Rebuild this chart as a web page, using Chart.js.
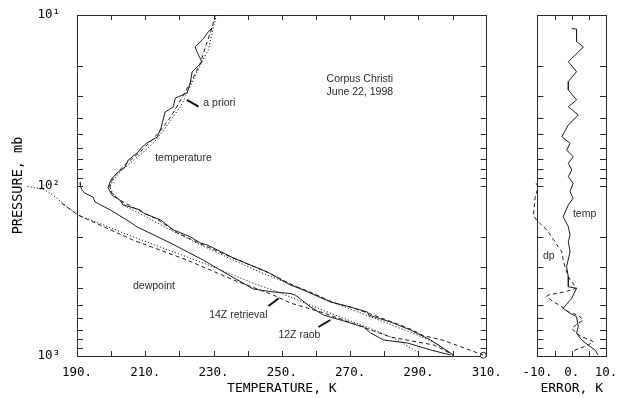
<!DOCTYPE html>
<html><head><meta charset="utf-8">
<script src="https://cdn.jsdelivr.net/npm/chart.js@4/dist/chart.umd.min.js"></script>
<style>
html,body{margin:0;padding:0;background:#fff;}
#wrap{position:relative;width:628px;height:398px;overflow:hidden;background:#fff;}
#c1{position:absolute;left:0;top:0;}
#c2{position:absolute;left:505px;top:0;}
</style></head><body>
<div id="wrap"><canvas id="c1" width="505" height="398"></canvas><canvas id="c2" width="123" height="398"></canvas></div>
<script>
// ---------- DATA (temperature K / pressure mb) ----------
const tempRaobT = [229.6,228.4,227.0,224.6,225.2,226.6,223.7,223.2,222.2,218.8,218.2,215.8,215.2,214.6,213.5,210.5,209.1,207.6,205.0,204.1,201.7,200.2,199.7,199.1,200.3,202.6,203.5,208.5,209.4,214.4,218.2,223.2,226.1,228.1,235.8,245.8,252.5,256.3,264.2,270.1,275.1,275.4,281.8,287.7,293.6,299.4,300.3];
const tempRaobP = [11.9,12.6,13.8,15.4,16.5,18.9,21.6,25.0,28.7,30.7,34.6,37.1,41.3,46,52.0,56.3,59.5,64.5,70.9,77.9,84.5,91,95.4,103,114,122,130,139,145,159,182,200,217,223,266,322,383,410,482,516,552,575,632,704,806,960,1000];

const tempRetrT = [230.5,229.5,227.8,226.2,224.2,221.8,219.8,217.3,214.3,211.3,208.3,205.3,202.8,200.8,199.6,199.8,202.0,207.5,213.5,219.5,226.3,236.0,246.0,253.3,257.8,265.0,271.0,276.5,283.0,288.0,291.5,297.0,309.0];
const tempRetrP = [10,12,15,19,23,28,33,40,48,56,64,72,80,89,98,108,120,138,158,190,220,268,324,385,418,485,524,572,640,700,760,806,986];

const tempApriT = [230.8,229.5,228.5,226.5,224.5,222.5,220.5,218.0,215.5,212.5,209.0,205.5,202.5,200.5,199.6,200.5,204.7,210.0,216.4,226.0,235.8,244.0,252.5,259.0,265.5,272.0,278.0,284.0,289.5,294.5,300.0];
const tempApriP = [10,13,16,19,23,28,34,40,47,56,65,74,84,93,102,112,134,152,178,222,274,325,380,430,490,550,610,680,750,830,990];

const dewRaobT = [190.9,191.0,191.4,192.3,194.7,195.3,199.7,205.6,207.6,217.3,227.0,234.5,241.7,247.0,252.5,254.0,258.4,262.2,267.2,273.9,276.0,279.8,286.8,293.6,299.4];
const dewRaobP = [96,100,106,111,117,125,139,164,175,217,274,335,405,420,430,440,516,575,615,676,733,806,839,922,986];

const dewRetrT = [185.5,190.3,206.4,222.3,235.8,247.5,252.5,262.2,281.8,294.5,300.3];
const dewRetrP = [127,149,209,274,358,439,489,558,774,862,986];

const dewApriT = [175.5,180.6,184.0,187.0,190.3,195.0,205.0,215.0,228.0,241.0,250.0,258.0,267.0,276.0,283.0,289.8];
const dewApriP = [101,106,118,133,149,162,195,232,290,370,430,500,590,690,790,947];

const surfaceT = [309.0];
const surfaceP = [990];

// error panel (K / mb)
const errTempE = [0,1.4,1.4,3.4,-1.0,1.4,-1.0,-1.0,1.4,-1.0,1.9,-1.0,-2.9,-0.5,-1.5,0.4,-1.0,0,-1.0,0.4,-0.5,0.4,-1.0,-2.5,-1.0,-0.5,-1.0,-0.5,-1.5,-1.0,-1.0,1.4,0,-2.5,-0.5,1.4,1.9,1.4,2.9,4.8,6.8,7.7];
const errTempP = [12.0,12.1,14.3,15.4,18.8,21.5,24.6,27.5,31.5,34.5,38.6,44.2,51.7,56.6,61.9,67.8,74.1,81.1,88.8,97.1,108.7,118.9,130.1,152.4,174.4,195.1,213.6,244.5,299.4,342.7,392.2,400.9,458.7,525.2,561.7,588.3,673.2,735.9,805.7,861.9,922.2,986.5];

const errDewE = [-10.4,-9.8,-10.7,-11.2,-10.2,-9.3,-7.3,-5.9,-3.9,-2.9,-2.5,-2.0,-1.0,0,1.4,-2.0,-6.9,-7.3,-5.4,-2.9,-1.0,0.4,2.4,3.4,1.9,0,1.4,2.9,5.3,6.3,4.8,2.4,0.9,0.4];
const errDewP = [97,102,118,150,160,167,182,200,229,245,274,299,343,367,401,420,439,449,480,514,550,562,588,615,643,688,736,771,806,824,862,901,922,964];

// ticks
const tempTickValues = [190,200,210,220,230,240,250,260,270,280,290,300,310];
const tempLabelValues = [190,210,230,250,270,290,310];
const tempLabels = ['190.','210.','230.','250.','270.','290.','310.'];
const errTickValues = [-10,-5,0,5,10];
const errLabelValues = [-10,0,10];
const errLabels = ['-10.','0.','10.'];
const pressureTickValues = [10,20,30,40,50,60,70,80,90,100,200,300,400,500,600,700,800,900,1000];
const pressureLabelValues = [10,100,1000];
const pressureLabels = ['10\u00B9','10\u00B2','10\u00B3'];

// ---------- helpers ----------
const pts = (xs, ys) => xs.map((v, i) => ({x: v, y: ys[i]}));
const INK = '#1c1c1c';
const MONO = '"DejaVu Sans Mono", "Liberation Mono", monospace';
const SANS = '"Liberation Sans", Arial, sans-serif';
const lineDs = (data, dash, extra) => Object.assign({
  data, showLine: true, pointRadius: 0, borderColor: INK, borderWidth: 1,
  borderDash: dash, fill: false, tension: 0, indexAxis: 'y'
}, extra || {});
const noGrid = {display: false, drawTicks: false, tickLength: 0};
const frame = {display: true, color: '#2a2a2a', width: 1};
const openLeft = {left: false, top: 0, right: 0, bottom: 0};

function inwardTicks(xLen, yLen) {
  return {
    id: 'inwardTicks',
    afterDraw(chart) {
      const {ctx, chartArea: a} = chart;
      const xs = chart.scales.x, ys = chart.scales.y;
      ctx.save();
      ctx.strokeStyle = '#2a2a2a'; ctx.lineWidth = 1;
      ctx.beginPath();
      xs.ticks.forEach(t => {
        const px = Math.round(xs.getPixelForValue(t.value)) + 0.5;
        if (px <= a.left + 1.5 || px >= a.right - 1.5) return;
        ctx.moveTo(px, a.bottom); ctx.lineTo(px, a.bottom - xLen);
        ctx.moveTo(px, a.top); ctx.lineTo(px, a.top + xLen);
      });
      ys.ticks.forEach(t => {
        const py = Math.round(ys.getPixelForValue(t.value)) + 0.5;
        if (py <= a.top + 1.5 || py >= a.bottom - 1.5) return;
        ctx.moveTo(a.left, py); ctx.lineTo(a.left + yLen, py);
        ctx.moveTo(a.right, py); ctx.lineTo(a.right - yLen, py);
      });
      ctx.stroke(); ctx.restore();
    }
  };
}

function annotations(texts, leaders) {
  return {
    id: 'annot',
    afterDraw(chart) {
      const {ctx} = chart;
      const xs = chart.scales.x, ys = chart.scales.y;
      ctx.save();
      ctx.fillStyle = '#2a2a2a';
      ctx.font = '10.5px ' + SANS;
      ctx.textAlign = 'left'; ctx.textBaseline = 'alphabetic';
      texts.forEach(t => ctx.fillText(t.text, xs.getPixelForValue(t.x), ys.getPixelForValue(t.y)));
      ctx.strokeStyle = '#111'; ctx.lineWidth = 2;
      leaders.forEach(l => {
        ctx.beginPath();
        ctx.moveTo(xs.getPixelForValue(l.x1), ys.getPixelForValue(l.y1));
        ctx.lineTo(xs.getPixelForValue(l.x2), ys.getPixelForValue(l.y2));
        ctx.stroke();
      });
      ctx.restore();
    }
  };
}

const yAxisBase = {
  type: 'logarithmic', reverse: true, min: 10, max: 1000,
  afterBuildTicks: s => { s.ticks = pressureTickValues.map(v => ({value: v})); },
  grid: noGrid,
  border: frame
};
const fixV = w => s => { s.width = w; s.paddingTop = 0; s.paddingBottom = 0; };
const fixH = h => s => { s.height = h; s.paddingLeft = 0; s.paddingRight = 0; };

// ---------- LEFT PANEL ----------
new Chart(document.getElementById('c1'), {
  type: 'scatter',
  data: {
    datasets: [
      lineDs(pts(tempRaobT, tempRaobP), []),
      lineDs(pts(tempRetrT, tempRetrP), [4, 3]),
      lineDs(pts(tempApriT, tempApriP), [1.2, 2]),
      lineDs(pts(dewRaobT, dewRaobP), []),
      lineDs(pts(dewRetrT, dewRetrP), [4, 3], {clip: openLeft}),
      lineDs(pts(dewApriT, dewApriP), [1.2, 2], {clip: openLeft}),
      {data: pts(surfaceT, surfaceP), showLine: false, pointRadius: 3, pointStyle: 'circle',
       borderColor: '#222', backgroundColor: '#fff', borderWidth: 1, clip: false}
    ]
  },
  options: {
    responsive: false, animation: false, events: [],
    layout: {padding: {left: 0, top: 15, right: 18.3, bottom: 0}},
    plugins: {legend: {display: false}, tooltip: {enabled: false}},
    scales: {
      x: {
        type: 'linear', position: 'bottom', min: 190, max: 310,
        afterBuildTicks: s => { s.ticks = tempTickValues.map(v => ({value: v})); },
        afterFit: fixH(42),
        grid: noGrid, border: frame,
        ticks: {
          autoSkip: false, maxRotation: 0, padding: 9, color: '#000',
          font: {family: MONO, size: 12.5},
          callback: v => { const i = tempLabelValues.indexOf(v); return i >= 0 ? tempLabels[i] : ''; }
        },
        title: {display: true, text: 'TEMPERATURE, K', color: '#000',
                font: {family: MONO, size: 13}, padding: {top: 0, bottom: 2}}
      },
      xTop: {
        type: 'linear', position: 'top', min: 190, max: 310,
        afterFit: fixH(0),
        grid: noGrid, ticks: {display: false}, border: frame
      },
      y: Object.assign({}, yAxisBase, {
        position: 'left',
        afterFit: fixV(77),
        ticks: {
          autoSkip: false, padding: 17, color: '#000',
          font: {family: MONO, size: 12.5},
          callback: v => { const i = pressureLabelValues.indexOf(v); return i >= 0 ? pressureLabels[i] : ''; }
        },
        title: {display: true, text: 'PRESSURE, mb', color: '#000',
                font: {family: MONO, size: 13.5}, padding: {top: 10, bottom: 0}}
      }),
      yRight: Object.assign({}, yAxisBase, {
        position: 'right',
        afterFit: fixV(0),
        ticks: {display: false}
      })
    }
  },
  plugins: [
    inwardTicks(5, 6),
    annotations([
      {text: 'Corpus Christi', x: 263.1, y: 24.7},
      {text: 'June 22, 1998', x: 263.1, y: 29.3},
      {text: 'a priori', x: 227.0, y: 34.4},
      {text: 'temperature', x: 212.9, y: 71.4},
      {text: 'dewpoint', x: 206.4, y: 404.6},
      {text: '14Z retrieval', x: 228.7, y: 598.6},
      {text: '12Z raob', x: 249.0, y: 784}
    ], [
      {x1: 222.2, y1: 31.5, x2: 225.6, y2: 34.5},
      {x1: 249.1, y1: 458.7, x2: 246.1, y2: 509},
      {x1: 260.7, y1: 676, x2: 264.2, y2: 615}
    ])
  ]
});

// ---------- RIGHT PANEL ----------
new Chart(document.getElementById('c2'), {
  type: 'scatter',
  data: {
    datasets: [
      lineDs(pts(errTempE, errTempP), []),
      lineDs(pts(errDewE, errDewP), [4, 3], {clip: false})
    ]
  },
  options: {
    responsive: false, animation: false, events: [],
    layout: {padding: {left: 0, top: 15, right: 22, bottom: 0}},
    plugins: {legend: {display: false}, tooltip: {enabled: false}},
    scales: {
      x: {
        type: 'linear', position: 'bottom', min: -10, max: 10,
        afterBuildTicks: s => { s.ticks = errTickValues.map(v => ({value: v})); },
        afterFit: fixH(42),
        grid: noGrid, border: frame,
        ticks: {
          autoSkip: false, maxRotation: 0, padding: 9, color: '#000',
          font: {family: MONO, size: 12.5},
          callback: v => { const i = errLabelValues.indexOf(v); return i >= 0 ? errLabels[i] : ''; }
        },
        title: {display: true, text: 'ERROR, K', color: '#000',
                font: {family: MONO, size: 13}, padding: {top: 0, bottom: 2}}
      },
      xTop: {
        type: 'linear', position: 'top', min: -10, max: 10,
        afterFit: fixH(0),
        grid: noGrid, ticks: {display: false}, border: frame
      },
      y: Object.assign({}, yAxisBase, {
        position: 'left',
        afterFit: fixV(32.5),
        ticks: {display: false}
      }),
      yRight: Object.assign({}, yAxisBase, {
        position: 'right',
        afterFit: fixV(0),
        ticks: {display: false}
      })
    }
  },
  plugins: [
    inwardTicks(5, 6),
    annotations([
      {text: 'temp', x: 0.35, y: 153},
      {text: 'dp', x: -8.4, y: 270}
    ], [])
  ]
});
</script>
</body></html>
